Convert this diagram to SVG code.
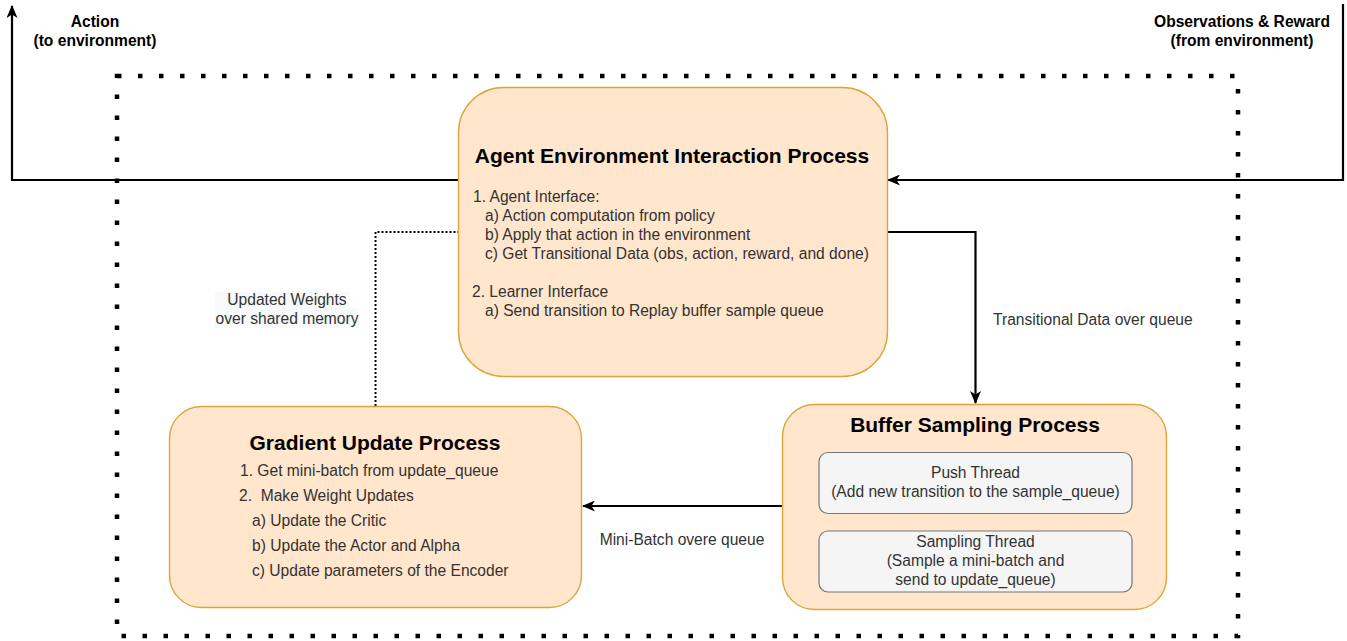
<svg xmlns="http://www.w3.org/2000/svg" width="1347" height="641" viewBox="0 0 1347 641">
  <defs>
    <marker id="arrow" viewBox="0 0 13 11" refX="12" refY="5.5" markerWidth="13" markerHeight="11" markerUnits="userSpaceOnUse" orient="auto">
      <path d="M0,0 L13,5.5 L0,11 L3.5,5.5 Z" fill="#000"/>
    </marker>
    <style>
      text { font-family: "Liberation Sans", Arial, sans-serif; }
      .title { font-size: 21px; font-weight: bold; fill: #000; text-anchor: middle; }
      .body { font-size: 15.6px; fill: #333; white-space: pre; }
      .label { font-size: 15.6px; fill: #333; }
      .io { font-size: 15.6px; font-weight: bold; fill: #000; text-anchor: middle; }
      .mid { text-anchor: middle; }
      .process { fill: #ffe6cc; stroke: #dba53a; stroke-width: 1.4; }
      .thread { fill: #f5f5f5; stroke: #777; stroke-width: 1.2; }
      .flow { fill: none; stroke: #000; stroke-width: 2.2; }
    </style>
  </defs>

  <rect width="1347" height="641" fill="#fff"/>

  <!-- learner boundary -->
  <rect id="boundary" x="117" y="76" width="1121" height="560" fill="none" stroke="#000" stroke-width="4.5" stroke-dasharray="4.5 16.5"/>

  <!-- connectors -->
  <g id="connectors">
    <path class="flow" d="M458,180 H12 V6" marker-end="url(#arrow)"/>
    <path class="flow" d="M1343,4 V180 H888" marker-end="url(#arrow)"/>
    <path class="flow" d="M887,232 H975.5 V403" marker-end="url(#arrow)"/>
    <path class="flow" d="M782,506 H583" marker-end="url(#arrow)"/>
    <path d="M375.5,406 V232 H458" fill="none" stroke="#000" stroke-width="2" stroke-dasharray="2 2"/>

    <text class="io" x="95" y="27">Action</text>
    <text class="io" x="95" y="46">(to environment)</text>
    <text class="io" x="1242" y="27">Observations &amp; Reward</text>
    <text class="io" x="1242" y="46">(from environment)</text>

    <rect x="215" y="292" width="134" height="16" fill="#f8f9fa"/>
    <rect x="215" y="308" width="144" height="20" fill="#f8f9fa"/>
    <text class="label mid" x="287" y="305">Updated Weights</text>
    <text class="label mid" x="287" y="324">over shared memory</text>

    <text class="label" x="993" y="325">Transitional Data over queue</text>
    <text class="label mid" x="682" y="545">Mini-Batch overe queue</text>
  </g>

  <!-- agent / environment interaction -->
  <g id="agent-process">
    <rect class="process" x="458.5" y="87.5" width="429" height="289" rx="45" ry="45"/>
    <text class="title" x="672" y="163">Agent Environment Interaction Process</text>
    <text class="body" x="473" y="202">1. Agent Interface:</text>
    <text class="body" x="485" y="221">a) Action computation from policy</text>
    <text class="body" x="485" y="240">b) Apply that action in the environment</text>
    <text class="body" x="485" y="259">c) Get Transitional Data (obs, action, reward, and done)</text>
    <text class="body" x="472" y="297">2. Learner Interface</text>
    <text class="body" x="485" y="316">a) Send transition to Replay buffer sample queue</text>
  </g>

  <!-- gradient update -->
  <g id="gradient-process">
    <rect class="process" x="169.5" y="406.5" width="412" height="201" rx="32" ry="32"/>
    <text class="title" x="375" y="450">Gradient Update Process</text>
    <text class="body" x="240" y="476">1. Get mini-batch from update_queue</text>
    <text class="body" x="239" y="501">2.  Make Weight Updates</text>
    <text class="body" x="252" y="526">a) Update the Critic</text>
    <text class="body" x="252" y="551">b) Update the Actor and Alpha</text>
    <text class="body" x="252" y="576">c) Update parameters of the Encoder</text>
  </g>

  <!-- buffer sampling -->
  <g id="buffer-process">
    <rect class="process" x="782.5" y="404.5" width="384" height="205" rx="32" ry="32"/>
    <text class="title" x="975" y="432">Buffer Sampling Process</text>
    <g id="push-thread">
      <rect class="thread" x="819" y="452.5" width="313" height="61" rx="9" ry="9"/>
      <text class="label mid" x="975.5" y="478">Push Thread</text>
      <text class="label mid" x="975.5" y="497">(Add new transition to the sample_queue)</text>
    </g>
    <g id="sampling-thread">
      <rect class="thread" x="819" y="531" width="313" height="61" rx="9" ry="9"/>
      <text class="label mid" x="975.5" y="547">Sampling Thread</text>
      <text class="label mid" x="975.5" y="566">(Sample a mini-batch and</text>
      <text class="label mid" x="975.5" y="585">send to update_queue)</text>
    </g>
  </g>
</svg>
